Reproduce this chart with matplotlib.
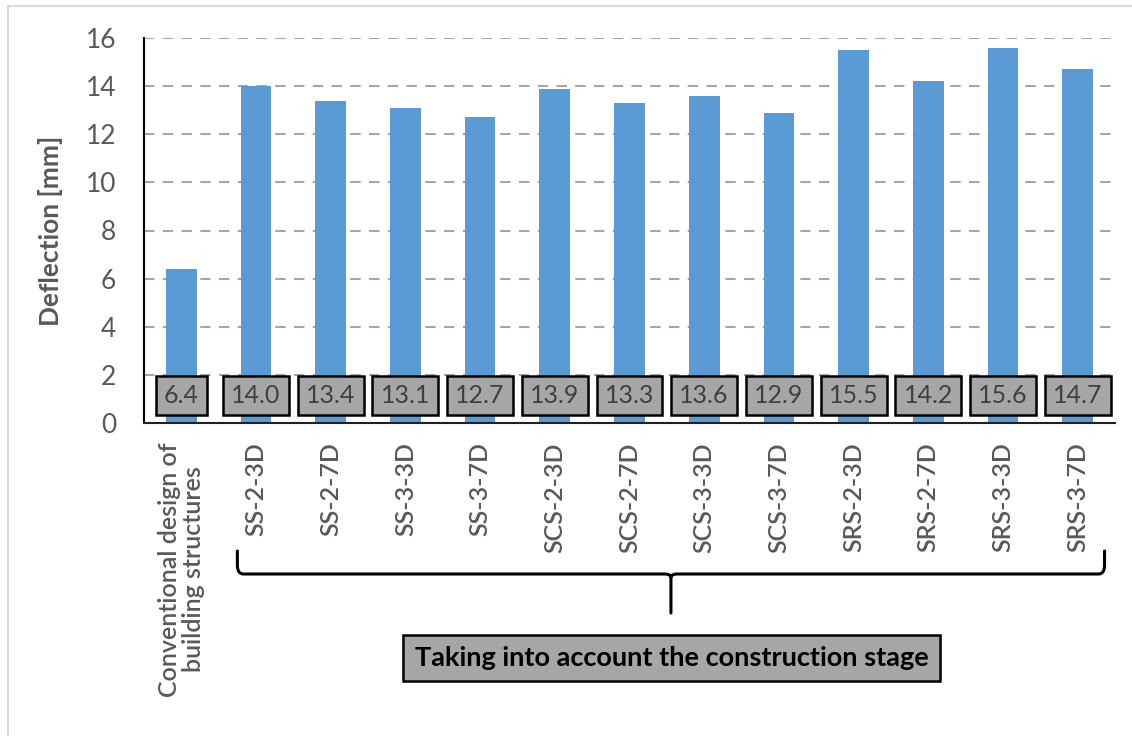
import matplotlib.pyplot as plt
import matplotlib.transforms as mtransforms
from matplotlib.path import Path
from matplotlib.patches import PathPatch, Rectangle

categories = ['Conventional design of\nbuilding structures',
              'SS-2-3D', 'SS-2-7D', 'SS-3-3D', 'SS-3-7D',
              'SCS-2-3D', 'SCS-2-7D', 'SCS-3-3D', 'SCS-3-7D',
              'SRS-2-3D', 'SRS-2-7D', 'SRS-3-3D', 'SRS-3-7D']
deflection = [6.4, 14.0, 13.4, 13.1, 12.7, 13.9, 13.3, 13.6, 12.9, 15.5, 14.2, 15.6, 14.7]
y_ticks = [0, 2, 4, 6, 8, 10, 12, 14, 16]
group_label = 'Taking into account the construction stage'

plt.rcParams['font.family'] = ['Lato', 'DejaVu Sans']
gray_txt = '#595959'

fig = plt.figure(figsize=(11.32, 7.36), dpi=100)
ax = fig.add_axes([144 / 1132, 1 - 423 / 736, 971 / 1132, 385 / 736])

# light border around chart area
fig.patches.append(Rectangle((8 / 1132, -0.1), 1.2, 1 - 6 / 736 + 0.1, transform=fig.transFigure,
                             fill=False, edgecolor='#D9D9D9', linewidth=1.5))

x = list(range(len(categories)))
ax.bar(x, deflection, width=0.41, color='#5B9BD5', zorder=2)

for xi, v in zip(x, deflection):
    ax.text(xi, 1.15, f'{v:.1f}', ha='center', va='center', fontsize=18, color='#404040', zorder=4,
            bbox=dict(boxstyle='square,pad=0.33', facecolor='#A6A6A6', edgecolor='black', linewidth=1.8))

ax.set_xlim(-0.5, len(categories) - 0.5)
ax.set_ylim(0, 16)
ax.set_yticks(y_ticks)
ax.tick_params(axis='y', length=0, labelsize=19, labelcolor=gray_txt, pad=20)
ax.tick_params(axis='x', length=0)
ax.set_xticks(x)
ax.set_xticklabels([])
for xi, lab in zip(x, categories):
    ax.text(xi, -0.8, lab, rotation=90, ha='center', va='top', fontsize=18, fontweight='semibold',
            color=gray_txt, multialignment='center', linespacing=1.05,
            transform=ax.transData, clip_on=False)

ax.yaxis.grid(True, linestyle=(0, (5, 4)), color='#A6A6A6', linewidth=1.5, zorder=0)
ax.set_axisbelow(True)
for s in ['top', 'right']:
    ax.spines[s].set_visible(False)
ax.spines['left'].set_linewidth(1.5)
ax.spines['bottom'].set_linewidth(1.5)
ax.spines['bottom'].set_color('#202020')

ax.set_ylabel('Deflection [mm]', fontsize=19, fontweight='bold', color=gray_txt, labelpad=16)

# curly brace under the construction-stage group
tr = mtransforms.blended_transform_factory(ax.transData, fig.transFigure)
xl, xr = 0.75, 12.36
xm = (xl + xr) / 2
yt, yh, yc = 1 - 551 / 736, 1 - 574 / 736, 1 - 613 / 736
d = 0.08
dy = 0.012
verts = [(xl, yt), (xl, yh + dy), (xl, yh), (xl + d, yh),
         (xm - d, yh), (xm - 0.01, yh), (xm, yh - 0.004), (xm, yc),
         (xm, yh - 0.004), (xm + 0.01, yh), (xm + d, yh),
         (xr - d, yh), (xr, yh), (xr, yh + dy), (xr, yt)]
codes = [Path.MOVETO, Path.LINETO, Path.CURVE3, Path.CURVE3,
         Path.LINETO, Path.CURVE3, Path.CURVE3, Path.LINETO,
         Path.MOVETO, Path.CURVE3, Path.CURVE3,
         Path.LINETO, Path.CURVE3, Path.CURVE3, Path.LINETO]
fig.patches.append(PathPatch(Path(verts, codes), transform=tr, fill=False,
                             edgecolor='black', linewidth=2.2, capstyle='round'))

fig.text(671.5 / 1132, 1 - 658 / 736, group_label, ha='center', va='center', fontsize=19.5,
         fontweight='bold', color='black',
         bbox=dict(boxstyle='square,pad=0.42', facecolor='#A6A6A6', edgecolor='black', linewidth=1.8))

fig.savefig('out.png', dpi=100)
